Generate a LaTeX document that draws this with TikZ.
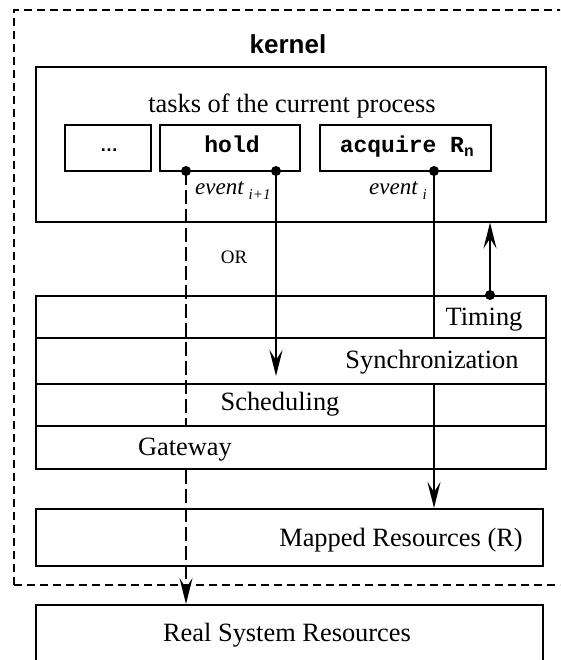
\documentclass[tikz,border=0pt]{standalone}
\usepackage{fontspec}
\setmainfont{Liberation Serif}
\newfontfamily\kernelfont{Liberation Sans}
\newfontfamily\codefont{Liberation Mono}
\usetikzlibrary{arrows.meta}
\tikzset{
  box/.style={draw, line width=2pt, inner sep=0pt},
  lbl/.style={font=\fontsize{26.4}{30}\selectfont, inner sep=0pt, anchor=base},
  code/.style={font=\codefont\bfseries\fontsize{23}{26}\selectfont, inner sep=0pt, anchor=base},
  ev/.style={font=\fontsize{23}{26}\selectfont\itshape, inner sep=0pt, anchor=base west},
  conn/.style={line width=2pt},
  dashconn/.style={line width=2pt, dash pattern=on 14pt off 5pt},
  kerneldash/.style={line width=2pt, dash pattern=on 8pt off 5pt},
  arr/.style={-{Stealth[length=26pt,width=13pt,inset=10pt]}},
  rarr/.style={{Stealth[length=26pt,width=13pt,inset=10pt]}-},
  dotc/.style={circle, fill=black, inner sep=0pt, minimum size=10pt}
}
\begin{document}
\begin{tikzpicture}[x=1pt,y=-1pt]
\useasboundingbox (0,0) rectangle (560,660);
\clip (0,0) rectangle (560,660);
% kernel frame
\draw[kerneldash] (14,585) -- (14,10) -- (600,10);
\draw[kerneldash] (14,585) -- (600,585);
\node[font=\kernelfont\bfseries\fontsize{26}{30}\selectfont, inner sep=0pt, anchor=base] (kernel) at (288,54) {kernel};
% tasks box
\node[box, minimum width=510pt, minimum height=154pt] (tasks) at (291,144.5) {};
\node[lbl] (title) at (292,113) {tasks of the current process};
\node[box, minimum width=86pt, minimum height=46pt] (dots) at (108,148) {};
\node[box, minimum width=140pt, minimum height=46pt] (hold) at (230,148) {};
\node[box, minimum width=171pt, minimum height=46pt] (acq) at (405.5,148) {};
\node[font=\kernelfont\bfseries\fontsize{18}{20}\selectfont, inner sep=0pt, anchor=base] (dotstxt) at (109,152) {…};
\node[code] (holdtxt) at (232,153) {hold};
\node[code] (acqtxt) at (407,153) {acquire R\textsubscript{n}};
\node[ev] (ev1) at (195,195) {event\hspace{5pt}{\fontsize{15}{17}\selectfont\raisebox{-5pt}{i+1}}};
\node[ev] (ev2) at (369,195) {event\hspace{5pt}{\fontsize{15}{17}\selectfont\raisebox{-5pt}{i}}};
\node[font=\fontsize{19}{22}\selectfont, inner sep=0pt, anchor=base] (or) at (234,263) {OR};
% layer stack
\node[box, minimum width=510pt, minimum height=42pt] (timingrow) at (291,317) {};
\node[box, minimum width=510pt, minimum height=46pt] (syncrow) at (291,361) {};
\node[box, minimum width=510pt, minimum height=42pt] (schedrow) at (291,405) {};
\node[box, minimum width=510pt, minimum height=43pt] (gaterow) at (291,447.5) {};
\node[lbl] (timing) at (484,325) {Timing};
\node[lbl] (sync) at (432,368) {Synchronization};
\node[lbl] (sched) at (280,410) {Scheduling};
\node[lbl] (gate) at (185,455) {Gateway};
% resources
\node[box, minimum width=507pt, minimum height=57pt] (mapped) at (289.5,537.5) {};
\node[lbl] (mappedtxt) at (401,546) {Mapped Resources (R)};
\node[box, minimum width=507pt, minimum height=95pt] (real) at (289.5,652.5) {};
\node[lbl] (realtxt) at (287,641) {Real System Resources};
% connector points
\coordinate (d1) at (186,171);
\coordinate (d2) at (276,171);
\coordinate (d3) at (434,171);
\coordinate (d4) at (490,295);
\coordinate (a2) at (276,376);
% connectors
\draw[dashconn] (d1) -- (d1 |- gaterow.north);
\draw[dashconn, arr] (d1 |- gaterow.south) -- (d1 |- real.north);
\draw[conn, arr] (d2) -- (a2);
\draw[conn] (d3) -- (d3 |- syncrow.north);
\draw[conn, arr] (d3 |- syncrow.south) -- (d3 |- mapped.north);
\draw[conn, rarr] (d4 |- tasks.south) -- (d4);
\node[dotc] at (d1) {};
\node[dotc] at (d2) {};
\node[dotc] at (d3) {};
\node[dotc] at (d4) {};
\end{tikzpicture}
\end{document}
